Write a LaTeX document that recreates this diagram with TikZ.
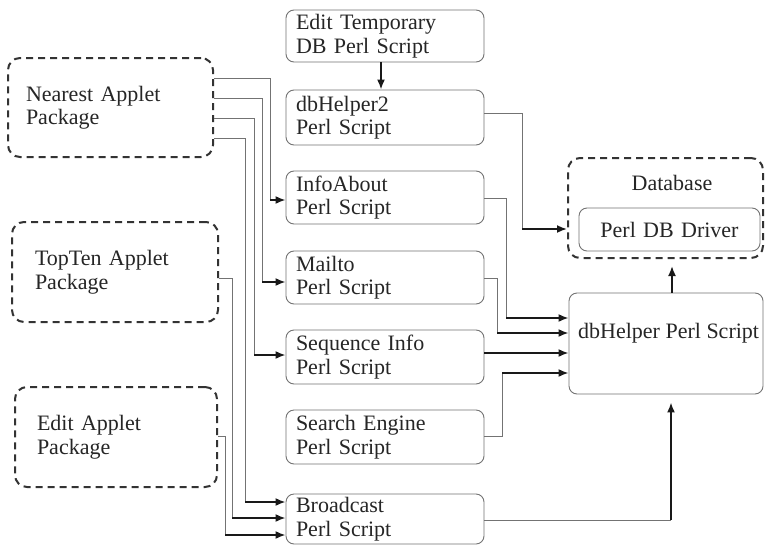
\documentclass[tikz,border=0pt]{standalone}
\usepackage{fontspec}
\setmainfont{Liberation Serif}
\usetikzlibrary{arrows.meta,calc}
\newcommand{\diafont}{\fontsize{22}{23.5}\selectfont}
\begin{document}
\begin{tikzpicture}[x=1pt,y=-1pt,
  sbox/.style={draw=black!55, line width=0.9pt, rounded corners=8pt,
    minimum width=198pt, minimum height=53pt, text width=178pt,
    inner xsep=10pt, inner ysep=2pt, align=left, font=\diafont, text=black!85},
  dbox/.style={draw=black!80, line width=2pt, dash pattern=on 7pt off 5pt,
    rounded corners=12pt, align=left, font=\diafont, text=black!85, inner ysep=2pt},
  plain/.style={font=\diafont, text=black!85, inner sep=0pt},
  conn/.style={draw=black!55, line width=0.9pt},
  tip/.style={draw=black!90, line width=1.8pt, -{Latex[length=10pt,width=8pt]}}
]
\useasboundingbox[fill=white] (0,0) rectangle (765,546);

% left packages
\node[dbox, minimum width=205pt, minimum height=99pt, text width=169pt, inner xsep=18pt] (near) at (110.5,107.5) {Nearest Applet\\Package};
\node[dbox, minimum width=206pt, minimum height=100pt, text width=160pt, inner xsep=23pt] (topten) at (115,272) {TopTen Applet\\Package};
\node[dbox, minimum width=202pt, minimum height=100pt, text width=158pt, inner xsep=22pt] (edit) at (116,437) {Edit Applet\\Package};

% scripts
\node[sbox, minimum height=52pt] (etemp) at (385,36) {Edit Temporary\\DB Perl Script};
\node[sbox, minimum height=55pt] (dbh2) at (385,117.5) {dbHelper2\\Perl Script};
\node[sbox] (info) at (385,197.5) {InfoAbout\\Perl Script};
\node[sbox] (mail) at (385,277.5) {Mailto\\Perl Script};
\node[sbox, minimum height=54pt] (seq) at (385,357) {Sequence Info\\Perl Script};
\node[sbox, minimum height=54pt] (search) at (385,437) {Search Engine\\Perl Script};
\node[sbox, minimum height=50pt] (bcast) at (385,519) {Broadcast\\Perl Script};

% database
\node[dbox, minimum width=195pt, minimum height=100pt] (db) at (665.5,208) {};
\node[plain] (dbtitle) at (672,183) {Database};
\node[sbox, minimum width=181pt, minimum height=43pt, text width=161pt, align=center] (driver) at (669.5,229.5) {Perl DB Driver};

% dbHelper
\node[sbox, minimum width=194pt, minimum height=101pt, text width=174pt] (dbh) at (666,343.5) {};
\node[plain, anchor=west] (dbhtxt) at (578,333) {dbHelper Perl Script};

% bend points
\coordinate (k2) at (522,229);
\coordinate (k3) at (270,200);
\coordinate (k4) at (262,282);
\coordinate (k5) at (254,355);
\coordinate (k6) at (245,502);
\coordinate (k7) at (232,518);
\coordinate (k8) at (225,535);
\coordinate (k9) at (506,318);
\coordinate (k10) at (497,333);
\coordinate (k12) at (502,373);
\coordinate (k13) at (671,520);

% Edit temp -> dbHelper2
\draw[tip] ([xshift=-4pt]etemp.south) -- ([xshift=-4pt]dbh2.north);

% dbHelper2 -> Database
\draw[conn] (dbh2.east |- 0,113) -| (k2);
\draw[tip] (k2) -- (db.west |- k2);

% Nearest -> scripts
\draw[conn] (near.east |- 0,78) -| (k3);
\draw[tip] (k3) -- (info.west |- k3);
\draw[conn] (near.east |- 0,98) -| (k4);
\draw[tip] (k4) -- (mail.west |- k4);
\draw[conn] (near.east |- 0,118) -| (k5);
\draw[tip] (k5) -- (seq.west |- k5);
\draw[conn] (near.east |- 0,138) -| (k6);
\draw[tip] (k6) -- (bcast.west |- k6);

% TopTen, Edit -> Broadcast
\draw[conn] (topten.east |- 0,278) -| (k7);
\draw[tip] (k7) -- (bcast.west |- k7);
\draw[conn] (edit.east |- 0,436) -| (k8);
\draw[tip] (k8) -- (bcast.west |- k8);

% scripts -> dbHelper
\draw[conn] (info.east |- 0,198) -| (k9);
\draw[tip] (k9) -- (dbh.west |- k9);
\draw[conn] (mail.east |- 0,278) -| (k10);
\draw[tip] (k10) -- (dbh.west |- k10);
\draw[tip] (seq.east |- 0,353) -- (dbh.west |- 0,353);
\draw[conn] (search.east |- 0,436) -| (k12);
\draw[tip] (k12) -- (dbh.west |- k12);

% Broadcast -> dbHelper
\draw[conn] (bcast.east |- k13) -- (k13);
\draw[tip, shorten >=8pt] (k13) -- (dbh.south -| k13);

% dbHelper -> Database
\draw[tip, shorten >=7pt, shorten <=0pt] (dbh.north -| 672,0) -- (db.south -| 672,0);
\end{tikzpicture}
\end{document}
